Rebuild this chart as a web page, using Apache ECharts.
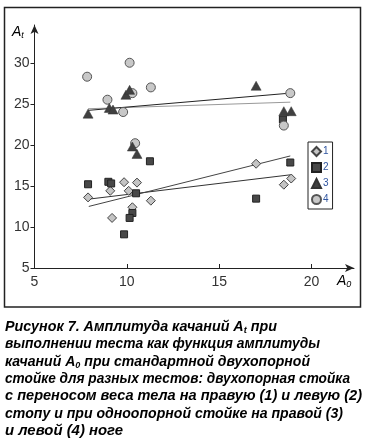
<!DOCTYPE html>
<html>
<head>
<meta charset="utf-8">
<script src="https://cdn.jsdelivr.net/npm/echarts@6/dist/echarts.min.js"></script>
<style>
html,body{margin:0;padding:0;background:#fff;}
#c{width:368px;height:443px;}
</style>
</head>
<body>
<div id="c"></div>
<script>
// Data
const xTicks = [5, 10, 15, 20];
const yTicks = [5, 10, 15, 20, 25, 30];
const legendNames = ['1', '2', '3', '4'];

const s1x = [7.9, 9.1, 9.85, 10.55, 10.1, 11.3, 10.3, 9.2, 17.0, 18.9, 18.5];
const s1y = [13.6, 14.4, 15.45, 15.4, 14.4, 13.2, 12.4, 11.1, 17.7, 15.9, 15.15];

const s2x = [7.9, 9.0, 9.15, 11.25, 10.5, 10.3, 10.15, 9.85, 18.85, 17.0, 18.45];
const s2y = [15.2, 15.5, 15.3, 18.0, 14.1, 11.7, 11.1, 9.1, 17.85, 13.45, 23.1];

const s3x = [7.9, 9.05, 9.25, 9.95, 10.15, 10.3, 10.55, 17.0, 18.5, 18.9];
const s3y = [23.8, 24.5, 24.3, 26.1, 26.7, 19.8, 18.9, 27.2, 24.1, 24.1];

const s4x = [7.85, 10.15, 8.95, 9.8, 10.3, 11.3, 10.45, 18.85, 18.5];
const s4y = [28.3, 30.0, 25.5, 24.0, 26.3, 27.0, 20.2, 26.3, 22.35];

// trend lines: [x0, x1], [y0, y1]
const t1x = [7.98, 18.85], t1y = [13.4, 16.35];
const t2x = [7.94, 18.85], t2y = [12.5, 18.65];
const t3x = [7.9, 18.85], t3y = [24.4, 25.2];
const t4x = [7.9, 18.85], t4y = [24.2, 26.3];

// caption lines: [main text, subscript, text after subscript]
const captionLines = [
  ['Рисунок 7. Амплитуда качаний A', 't', ' при'],
  ['выполнении теста как функция амплитуды', '', ''],
  ['качаний A', '0', ' при стандартной двухопорной'],
  ['стойке для разных тестов: двухопорная стойка', '', ''],
  ['с переносом веса тела на правую (1) и левую (2)', '', ''],
  ['стопу и при одноопорной стойке на правой (3)', '', ''],
  ['и левой (4) ноге', '', '']
];
// right edges of caption lines in the reference (layout)
const captionRight = [277, 320, 310, 350, 362, 343, 123];

const zip = (xs, ys) => xs.map((x, i) => [x, ys[i]]);

const chart = echarts.init(document.getElementById('c'), null, {renderer: 'canvas'});

const axisFont = 'Liberation Sans, Arial, sans-serif';
const capFont = '"Liberation Sans", Arial, sans-serif';
const capSize = 14, subSize = 9;

const mctx = document.createElement('canvas').getContext('2d');
function measure(txt, size) {
  mctx.font = 'italic bold ' + size + 'px ' + capFont;
  return mctx.measureText(txt).width;
}

const capStyle = {fontFamily: capFont, fontSize: capSize, fontWeight: 'bold', fontStyle: 'italic', color: '#222', lineHeight: 17};
const capSub = {fontFamily: capFont, fontSize: subSize, fontWeight: 'bold', fontStyle: 'italic', color: '#222', lineHeight: 17, padding: [7, 0, 0, 0]};

const captionGraphics = captionLines.map((ln, i) => {
  let txt = '{t|' + ln[0] + '}';
  if (ln[1]) txt += '{s|' + ln[1] + '}';
  if (ln[2]) txt += '{t|' + ln[2] + '}';
  const w = measure(ln[0], capSize) + (ln[1] ? measure(ln[1], subSize) : 0) + (ln[2] ? measure(ln[2], capSize) : 0);
  const target = captionRight[i] - 5;
  const sx = target / w;
  return {
    type: 'text', x: 5, y: 318.5 + i * 17.4, scaleX: sx, z: 10,
    style: {text: txt, rich: {t: capStyle, s: capSub}}
  };
});

const option = {
  animation: false,
  backgroundColor: '#fff',
  grid: {left: 34.5, right: 14, top: 25, bottom: 175, containLabel: false},
  xAxis: {
    type: 'value', min: 5, max: 22.3,
    splitLine: {show: false},
    axisLine: {show: true, lineStyle: {color: '#222', width: 1}, symbol: ['none', 'arrow'], symbolSize: [6, 9]},
    axisTick: {show: true, inside: true, length: 4, lineStyle: {color: '#222'}, customValues: xTicks},
    axisLabel: {customValues: xTicks, color: '#333', fontFamily: axisFont, fontSize: 14, margin: 7}
  },
  yAxis: {
    type: 'value', min: 5, max: 34.6,
    splitLine: {show: false},
    axisLine: {show: true, lineStyle: {color: '#222', width: 1}, symbol: ['none', 'arrow'], symbolSize: [6, 9]},
    axisTick: {show: true, inside: false, length: 4, lineStyle: {color: '#222'}, customValues: yTicks},
    axisLabel: {customValues: yTicks, color: '#333', fontFamily: axisFont, fontSize: 14, margin: 5}
  },
  legend: {
    orient: 'vertical',
    left: 308, top: 142,
    data: legendNames,
    itemWidth: 9, itemHeight: 9, itemGap: 5,
    padding: [4, 4, 4, 3],
    borderColor: '#222', borderWidth: 1,
    textStyle: {color: '#2f55a0', fontFamily: axisFont, fontSize: 10, lineHeight: 11, padding: [0, 0, 0, -3]},
    selectedMode: false
  },
  series: [
    {type: 'line', data: zip(t1x, t1y), showSymbol: false, symbol: 'none', lineStyle: {color: '#333', width: 1}, z: 1, silent: true},
    {type: 'line', data: zip(t2x, t2y), showSymbol: false, symbol: 'none', lineStyle: {color: '#444', width: 1}, z: 1, silent: true},
    {type: 'line', data: zip(t3x, t3y), showSymbol: false, symbol: 'none', lineStyle: {color: '#999', width: 1}, z: 1, silent: true},
    {type: 'line', data: zip(t4x, t4y), showSymbol: false, symbol: 'none', lineStyle: {color: '#222', width: 1}, z: 1, silent: true},
    {name: '1', type: 'scatter', data: zip(s1x, s1y), symbol: 'diamond', symbolSize: [9, 9],
      itemStyle: {color: '#c4c4c4', borderColor: '#444', borderWidth: 1, opacity: 1}, z: 3},
    {name: '2', type: 'scatter', data: zip(s2x, s2y), symbol: 'rect', symbolSize: [7, 7],
      itemStyle: {color: '#484848', borderColor: '#222', borderWidth: 1, opacity: 1}, z: 3},
    {name: '3', type: 'scatter', data: zip(s3x, s3y), symbol: 'triangle', symbolSize: [10, 9],
      itemStyle: {color: '#404040', borderColor: '#333', borderWidth: 0.5, opacity: 1}, z: 5},
    {name: '4', type: 'scatter', data: zip(s4x, s4y), symbol: 'circle', symbolSize: 9,
      itemStyle: {color: '#c8c8c8', borderColor: '#555', borderWidth: 1, opacity: 1}, z: 4}
  ],
  graphic: [
    {type: 'rect', shape: {x: 4.5, y: 7.5, width: 356, height: 299.5}, style: {fill: 'none', stroke: '#222', lineWidth: 1.5}, z: 0, silent: true},
    {type: 'text', left: 12, top: 25, z: 10, style: {
      text: '{a|A}{s|t}',
      rich: {
        a: {fontFamily: axisFont, fontSize: 14, fontStyle: 'italic', color: '#333', lineHeight: 16},
        s: {fontFamily: axisFont, fontSize: 9, fontStyle: 'italic', color: '#333', lineHeight: 16, padding: [6, 0, 0, 0]}
      }
    }},
    {type: 'text', left: 337, top: 274, z: 10, style: {
      text: '{a|A}{s|0}',
      rich: {
        a: {fontFamily: axisFont, fontSize: 14, fontStyle: 'italic', color: '#333', lineHeight: 16},
        s: {fontFamily: axisFont, fontSize: 9, fontStyle: 'italic', color: '#333', lineHeight: 16, padding: [6, 0, 0, 0]}
      }
    }}
  ].concat(captionGraphics)
};

chart.setOption(option);
</script>
</body>
</html>
